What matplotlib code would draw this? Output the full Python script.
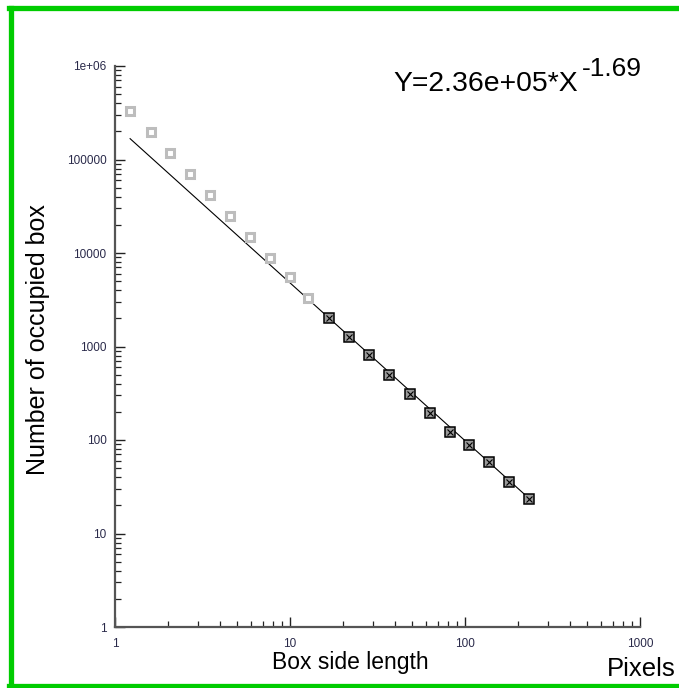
import numpy as np
import matplotlib
matplotlib.use('Agg')
import matplotlib.pyplot as plt
from matplotlib.lines import Line2D
from matplotlib.ticker import LogLocator, NullFormatter

plt.rcParams['font.family'] = ['Liberation Sans', 'DejaVu Sans']

# box sizes (pixels) and occupied box counts
gray_x = [1.22, 1.60, 2.07, 2.69, 3.49, 4.56, 5.93, 7.69, 9.96, 12.7]
gray_y = [3.30e5, 1.97e5, 1.17e5, 7.05e4, 4.2e4, 2.5e4, 1.49e4, 8.9e3, 5.54e3, 3.33e3]
fit_pts_x = [16.8, 21.8, 28.4, 36.9, 48.5, 63.1, 81.8, 106, 138, 179, 233]
fit_pts_y = [2.0e3, 1.27e3, 811, 492, 308, 196, 121, 88.4, 57.7, 35.6, 23.6]

# fitted power law line endpoints
line_x = [1.22, 233]
line_y = [1.67e5, 23.6]

xticks = [1, 10, 100, 1000]
xtick_labels = ['1', '10', '100', '1000']
yticks = [1, 10, 100, 1000, 10000, 100000, 1000000]
ytick_labels = ['1', '10', '100', '1000', '10000', '100000', '1e+06']

W, H = 679, 688
fig = plt.figure(figsize=(W / 100, H / 100), dpi=100)
ax = fig.add_axes([115 / W, 1 - 627 / H, 525 / W, 561 / H])
ax.set_xscale('log')
ax.set_yscale('log')
ax.set_xlim(1, 1000)
ax.set_ylim(1, 1e6)

ax.plot(line_x, line_y, color='black', lw=0.8, zorder=2)
ax.plot(gray_x, gray_y, ls='none', marker='s', ms=5.5, mfc='white',
        mec='#bdbdbd', mew=2.2, zorder=3)
ax.plot(fit_pts_x, fit_pts_y, ls='none', marker='s', ms=6.5, mfc='#9a9a9a',
        mec='black', mew=1.1, zorder=3)
ax.plot(fit_pts_x, fit_pts_y, ls='none', marker='x', ms=4.5, mec='black',
        mew=0.8, zorder=4)

for s in ['top', 'right']:
    ax.spines[s].set_visible(False)
for s in ['left', 'bottom']:
    ax.spines[s].set_color('#555555')
    ax.spines[s].set_linewidth(1.6)

ax.set_xticks(xticks)
ax.set_xticklabels(xtick_labels)
ax.set_yticks(yticks)
ax.set_yticklabels(ytick_labels)
ax.xaxis.set_minor_locator(LogLocator(base=10, subs=np.arange(2, 10)))
ax.yaxis.set_minor_locator(LogLocator(base=10, subs=np.arange(2, 10)))
ax.xaxis.set_minor_formatter(NullFormatter())
ax.yaxis.set_minor_formatter(NullFormatter())
ax.tick_params(which='major', direction='in', length=7, width=1.0,
               color='#222222', labelsize=8.5, labelcolor='#2a2a4a', pad=8)
ax.tick_params(which='minor', direction='in', length=4, width=0.9,
               color='#222222')
ax.tick_params(axis='y', which='major', pad=6)

fig.text(38 / W, 1 - 340 / H, 'Number of occupied box', rotation=90,
         fontsize=18, ha='center', va='center')
fig.text(350 / W, 1 - 662 / H, 'Box side length', fontsize=16.5,
         ha='center', va='center')
fig.text(607 / W, 1 - 669 / H, 'Pixels', fontsize=18.5, ha='left', va='center')

fig.text(393.5 / W, 1 - 91 / H, 'Y=2.36e+05*X', fontsize=20.4, ha='left',
         va='baseline')
fig.text(582 / W, 1 - 76 / H, '-1.69', fontsize=19, ha='left',
         va='baseline')

# green frame (left, top, bottom)
green = '#00cc00'
fig.add_artist(Line2D([10.5 / W, 10.5 / W], [0, 1 - 7.5 / H],
                      transform=fig.transFigure, color=green, lw=3.8))
fig.add_artist(Line2D([8.5 / W, 1], [1 - 7.5 / H, 1 - 7.5 / H],
                      transform=fig.transFigure, color=green, lw=3.8))
fig.add_artist(Line2D([8.5 / W, 1], [1 - 686 / H, 1 - 686 / H],
                      transform=fig.transFigure, color=green, lw=3.8))

fig.savefig('out.png', dpi=100)
